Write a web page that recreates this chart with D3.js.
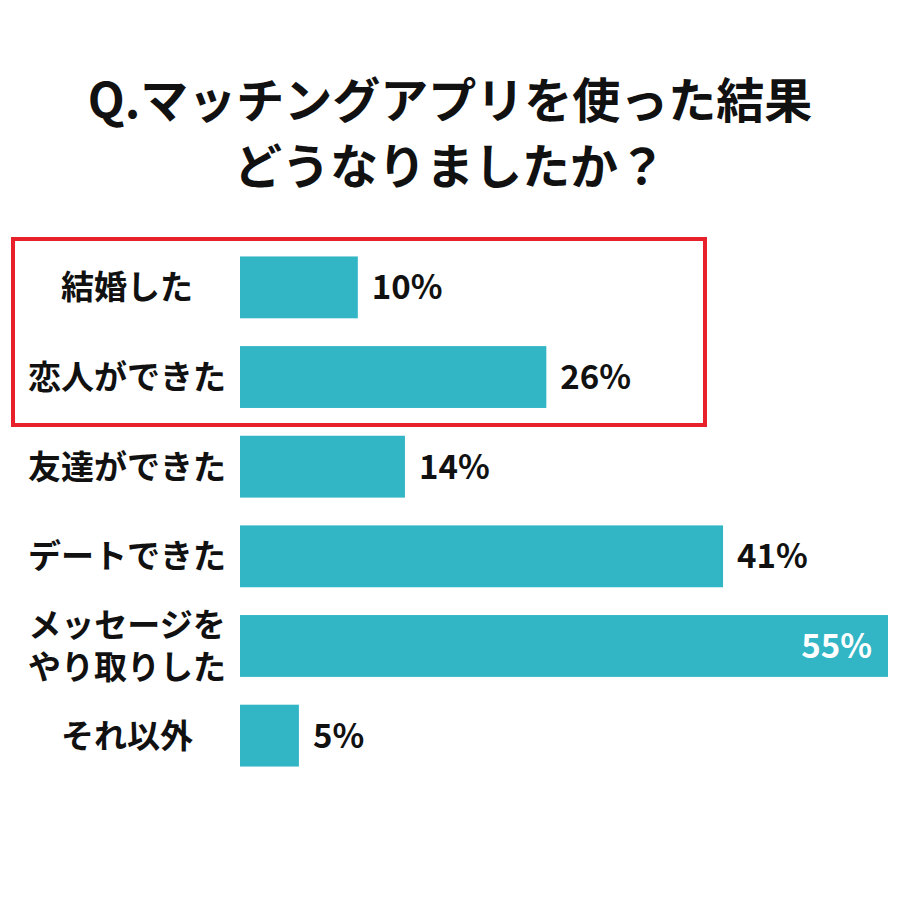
<!DOCTYPE html>
<html><head><meta charset="utf-8">
<script src="https://cdn.jsdelivr.net/npm/d3@7"></script>
<style>body{margin:0;background:#fff}</style>
</head><body>
<script>
// chart data
var categories = ["結婚した", "恋人ができた", "友達ができた", "デートできた", "メッセージを\nやり取りした", "それ以外"];
var values = [10, 26, 14, 41, 55, 5];
var titleLines = ["Q.マッチングアプリを使った結果", "どうなりましたか？"];

var font = "'Noto Sans CJK JP', 'Noto Sans', sans-serif";
var svg = d3.select("body").append("svg").attr("width", 900).attr("height", 900);

svg.selectAll(".title").data(titleLines).enter().append("text")
    .attr("x", 450).attr("y", function (d, i) { return 118 + i * 66; })
    .attr("text-anchor", "middle").attr("font-family", font)
    .attr("font-weight", "bold").attr("font-size", 48).attr("fill", "#111")
    .text(function (d) { return d; });

var x = d3.scaleLinear().domain([0, 55]).range([240, 888]);
var y = d3.scaleBand().domain(categories).range([243, 780]).paddingInner(0.31).paddingOuter(0.15);

svg.selectAll(".bar").data(values).enter().append("rect")
    .attr("x", x(0)).attr("y", function (d, i) { return y(categories[i]); })
    .attr("width", function (d) { return x(d) - x(0); })
    .attr("height", y.bandwidth()).attr("fill", "#32b5c5");

var max = d3.max(values);
svg.selectAll(".val").data(values).enter().append("text")
    .attr("x", function (d) { return d === max ? x(d) - 16 : x(d) + 14; })
    .attr("y", function (d, i) { return y(categories[i]) + y.bandwidth() / 2; })
    .attr("dy", "0.36em")
    .attr("text-anchor", function (d) { return d === max ? "end" : "start"; })
    .attr("font-family", font).attr("font-weight", "bold").attr("font-size", 33)
    .attr("fill", function (d) { return d === max ? "#fff" : "#111"; })
    .text(function (d) { return d + "%"; });

categories.forEach(function (c) {
    var lines = c.split("\n");
    var cy = y(c) + y.bandwidth() / 2;
    lines.forEach(function (l, j) {
        svg.append("text").attr("x", 127)
            .attr("y", cy + (j - (lines.length - 1) / 2) * 42)
            .attr("dy", "0.36em").attr("text-anchor", "middle")
            .attr("font-family", font).attr("font-weight", "bold").attr("font-size", 33)
            .attr("fill", "#111").text(l);
    });
});

// highlight box around first two rows
svg.append("rect").attr("x", 13).attr("y", 239).attr("width", 692).attr("height", 186)
    .attr("fill", "none").attr("stroke", "#e8202a").attr("stroke-width", 4);
</script>
</body></html>
